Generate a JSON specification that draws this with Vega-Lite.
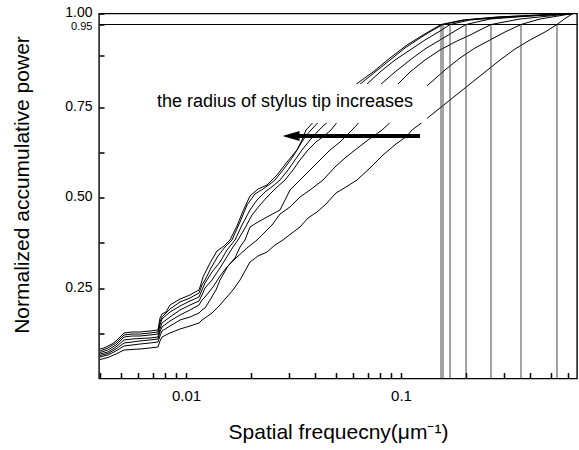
{
  "$schema": "https://vega.github.io/schema/vega-lite/v6.json",
  "width": 478,
  "height": 365,
  "autosize": {"type": "none"},
  "padding": {"left": 99, "top": 13.5, "right": 2, "bottom": 71.5},
  "background": "white",
  "config": {
    "view": {"stroke": "black", "strokeWidth": 1.4},
    "font": "Liberation Sans"
  },
  "datasets": {
    "curves": [
      {"c":1,"f":0.003981,"p":0.0815},{"c":1,"f":0.004155,"p":0.0843},{"c":1,"f":0.004337,"p":0.0898},{"c":1,"f":0.004527,"p":0.0953},{"c":1,"f":0.004725,"p":0.1036},{"c":1,"f":0.004932,"p":0.1146},{"c":1,"f":0.005148,"p":0.1257},{"c":1,"f":0.005608,"p":0.1285},{"c":1,"f":0.006110,"p":0.1285},{"c":1,"f":0.006801,"p":0.1312},{"c":1,"f":0.007409,"p":0.1340},{"c":1,"f":0.007569,"p":0.1671},{"c":1,"f":0.007733,"p":0.1782},{"c":1,"f":0.008072,"p":0.1837},{"c":1,"f":0.008425,"p":0.2030},{"c":1,"f":0.008889,"p":0.2113},{"c":1,"f":0.009378,"p":0.2196},{"c":1,"f":0.009894,"p":0.2251},{"c":1,"f":0.010438,"p":0.2307},{"c":1,"f":0.011012,"p":0.2389},{"c":1,"f":0.011494,"p":0.2445},{"c":1,"f":0.011743,"p":0.2610},{"c":1,"f":0.011997,"p":0.2804},{"c":1,"f":0.012931,"p":0.3191},{"c":1,"f":0.013938,"p":0.3522},{"c":1,"f":0.015023,"p":0.3660},{"c":1,"f":0.016020,"p":0.3826},{"c":1,"f":0.017267,"p":0.4213},{"c":1,"f":0.018413,"p":0.4627},{"c":1,"f":0.019847,"p":0.5041},{"c":1,"f":0.021623,"p":0.5235},{"c":1,"f":0.023810,"p":0.5345},{"c":1,"f":0.025119,"p":0.5483},{"c":1,"f":0.026501,"p":0.5622},{"c":1,"f":0.029497,"p":0.5980},{"c":1,"f":0.032832,"p":0.6312},{"c":1,"f":0.034638,"p":0.6588},{"c":1,"f":0.036154,"p":0.6864},{"c":1,"f":0.042002,"p":0.7279},{"c":1,"f":0.050389,"p":0.7670},{"c":1,"f":0.061103,"p":0.8033},{"c":1,"f":0.074093,"p":0.8348},{"c":1,"f":0.088890,"p":0.8688},{"c":1,"f":0.10664,"p":0.9003},{"c":1,"f":0.12657,"p":0.9245},{"c":1,"f":0.15350,"p":0.95},{"c":1,"f":0.19427,"p":0.9705},{"c":1,"f":0.27958,"p":0.9841},{"c":1,"f":0.63096,"p":1.0},
      {"c":2,"f":0.003981,"p":0.0760},{"c":2,"f":0.004337,"p":0.0843},{"c":2,"f":0.004725,"p":0.0981},{"c":2,"f":0.005148,"p":0.1202},{"c":2,"f":0.005608,"p":0.1229},{"c":2,"f":0.006110,"p":0.1229},{"c":2,"f":0.006801,"p":0.1257},{"c":2,"f":0.007409,"p":0.1285},{"c":2,"f":0.007569,"p":0.1561},{"c":2,"f":0.007733,"p":0.1699},{"c":2,"f":0.008425,"p":0.1920},{"c":2,"f":0.009378,"p":0.2113},{"c":2,"f":0.010438,"p":0.2224},{"c":2,"f":0.011494,"p":0.2362},{"c":2,"f":0.011869,"p":0.2583},{"c":2,"f":0.012257,"p":0.2721},{"c":2,"f":0.013070,"p":0.3052},{"c":2,"f":0.014088,"p":0.3384},{"c":2,"f":0.015185,"p":0.3633},{"c":2,"f":0.016366,"p":0.3826},{"c":2,"f":0.017831,"p":0.4323},{"c":2,"f":0.019219,"p":0.4793},{"c":2,"f":0.020939,"p":0.5097},{"c":2,"f":0.022812,"p":0.5235},{"c":2,"f":0.024587,"p":0.5373},{"c":2,"f":0.025939,"p":0.5483},{"c":2,"f":0.028260,"p":0.5760},{"c":2,"f":0.031120,"p":0.6091},{"c":2,"f":0.033904,"p":0.6450},{"c":2,"f":0.035769,"p":0.6671},{"c":2,"f":0.038143,"p":0.6864},{"c":2,"f":0.044313,"p":0.7279},{"c":2,"f":0.052035,"p":0.7670},{"c":2,"f":0.063777,"p":0.8033},{"c":2,"f":0.075697,"p":0.8348},{"c":2,"f":0.088890,"p":0.8639},{"c":2,"f":0.10438,"p":0.8930},{"c":2,"f":0.12257,"p":0.9173},{"c":2,"f":0.14088,"p":0.9367},{"c":2,"f":0.15682,"p":0.95},{"c":2,"f":0.19847,"p":0.9705},{"c":2,"f":0.28872,"p":0.9841},{"c":2,"f":0.63096,"p":1.0},
      {"c":3,"f":0.003981,"p":0.0718},{"c":3,"f":0.004337,"p":0.0787},{"c":3,"f":0.004725,"p":0.0925},{"c":3,"f":0.005148,"p":0.1146},{"c":3,"f":0.005608,"p":0.1174},{"c":3,"f":0.006110,"p":0.1174},{"c":3,"f":0.006801,"p":0.1202},{"c":3,"f":0.007409,"p":0.1229},{"c":3,"f":0.007569,"p":0.1478},{"c":3,"f":0.007733,"p":0.1644},{"c":3,"f":0.008425,"p":0.1837},{"c":3,"f":0.009378,"p":0.2003},{"c":3,"f":0.010438,"p":0.2141},{"c":3,"f":0.011494,"p":0.2251},{"c":3,"f":0.011869,"p":0.2445},{"c":3,"f":0.012257,"p":0.2638},{"c":3,"f":0.013211,"p":0.2942},{"c":3,"f":0.014393,"p":0.3218},{"c":3,"f":0.015513,"p":0.3550},{"c":3,"f":0.016901,"p":0.3826},{"c":3,"f":0.018217,"p":0.4240},{"c":3,"f":0.019847,"p":0.4655},{"c":3,"f":0.021392,"p":0.4931},{"c":3,"f":0.023306,"p":0.5152},{"c":3,"f":0.025390,"p":0.5318},{"c":3,"f":0.027366,"p":0.5483},{"c":3,"f":0.029815,"p":0.5760},{"c":3,"f":0.032136,"p":0.6036},{"c":3,"f":0.034638,"p":0.6312},{"c":3,"f":0.037736,"p":0.6588},{"c":3,"f":0.041555,"p":0.6864},{"c":3,"f":0.049322,"p":0.7279},{"c":3,"f":0.057917,"p":0.7670},{"c":3,"f":0.068742,"p":0.8033},{"c":3,"f":0.079862,"p":0.8348},{"c":3,"f":0.093780,"p":0.8639},{"c":3,"f":0.11012,"p":0.8882},{"c":3,"f":0.12931,"p":0.9124},{"c":3,"f":0.15186,"p":0.9342},{"c":3,"f":0.16902,"p":0.95},{"c":3,"f":0.20939,"p":0.9705},{"c":3,"f":0.32136,"p":0.9841},{"c":3,"f":0.63096,"p":1.0},
      {"c":4,"f":0.003981,"p":0.0677},{"c":4,"f":0.004337,"p":0.0732},{"c":4,"f":0.004725,"p":0.0870},{"c":4,"f":0.005148,"p":0.1064},{"c":4,"f":0.005608,"p":0.1091},{"c":4,"f":0.006110,"p":0.1105},{"c":4,"f":0.006801,"p":0.1119},{"c":4,"f":0.007409,"p":0.1146},{"c":4,"f":0.007569,"p":0.1367},{"c":4,"f":0.007733,"p":0.1533},{"c":4,"f":0.008425,"p":0.1699},{"c":4,"f":0.009378,"p":0.1892},{"c":4,"f":0.010438,"p":0.2030},{"c":4,"f":0.011494,"p":0.2141},{"c":4,"f":0.011869,"p":0.2307},{"c":4,"f":0.012257,"p":0.2500},{"c":4,"f":0.013211,"p":0.2721},{"c":4,"f":0.014393,"p":0.3052},{"c":4,"f":0.015680,"p":0.3412},{"c":4,"f":0.016543,"p":0.3633},{"c":4,"f":0.017453,"p":0.3826},{"c":4,"f":0.018812,"p":0.4157},{"c":4,"f":0.020277,"p":0.4517},{"c":4,"f":0.022091,"p":0.4793},{"c":4,"f":0.024066,"p":0.5041},{"c":4,"f":0.026219,"p":0.5262},{"c":4,"f":0.028872,"p":0.5483},{"c":4,"f":0.031455,"p":0.5760},{"c":4,"f":0.033904,"p":0.6036},{"c":4,"f":0.036937,"p":0.6312},{"c":4,"f":0.040241,"p":0.6533},{"c":4,"f":0.043841,"p":0.6699},{"c":4,"f":0.047253,"p":0.6864},{"c":4,"f":0.054897,"p":0.7362},{"c":4,"f":0.064464,"p":0.7670},{"c":4,"f":0.071750,"p":0.7864},{"c":4,"f":0.079862,"p":0.8033},{"c":4,"f":0.093780,"p":0.8348},{"c":4,"f":0.11012,"p":0.8639},{"c":4,"f":0.12931,"p":0.8906},{"c":4,"f":0.15186,"p":0.9124},{"c":4,"f":0.17832,"p":0.9342},{"c":4,"f":0.20061,"p":0.95},{"c":4,"f":0.25939,"p":0.9750},{"c":4,"f":0.39811,"p":0.9886},{"c":4,"f":0.63096,"p":1.0},
      {"c":5,"f":0.003981,"p":0.0635},{"c":5,"f":0.004337,"p":0.0691},{"c":5,"f":0.004725,"p":0.0815},{"c":5,"f":0.005148,"p":0.0981},{"c":5,"f":0.005608,"p":0.1008},{"c":5,"f":0.006110,"p":0.1036},{"c":5,"f":0.006801,"p":0.1064},{"c":5,"f":0.007409,"p":0.1091},{"c":5,"f":0.007569,"p":0.1285},{"c":5,"f":0.007733,"p":0.1423},{"c":5,"f":0.008425,"p":0.1588},{"c":5,"f":0.009378,"p":0.1754},{"c":5,"f":0.010438,"p":0.1892},{"c":5,"f":0.011494,"p":0.2030},{"c":5,"f":0.011869,"p":0.2168},{"c":5,"f":0.012257,"p":0.2251},{"c":5,"f":0.013353,"p":0.2528},{"c":5,"f":0.014393,"p":0.2831},{"c":5,"f":0.015513,"p":0.3080},{"c":5,"f":0.016901,"p":0.3329},{"c":5,"f":0.017831,"p":0.3633},{"c":5,"f":0.018812,"p":0.3826},{"c":5,"f":0.019847,"p":0.4185},{"c":5,"f":0.021623,"p":0.4323},{"c":5,"f":0.023810,"p":0.4461},{"c":5,"f":0.027366,"p":0.4655},{"c":5,"f":0.030460,"p":0.5207},{"c":5,"f":0.033904,"p":0.5483},{"c":5,"f":0.037736,"p":0.5760},{"c":5,"f":0.042002,"p":0.6036},{"c":5,"f":0.046750,"p":0.6312},{"c":5,"f":0.052035,"p":0.6533},{"c":5,"f":0.059171,"p":0.6864},{"c":5,"f":0.068009,"p":0.7251},{"c":5,"f":0.079862,"p":0.7670},{"c":5,"f":0.095810,"p":0.8033},{"c":5,"f":0.11012,"p":0.8348},{"c":5,"f":0.12931,"p":0.8639},{"c":5,"f":0.15186,"p":0.8882},{"c":5,"f":0.17832,"p":0.9076},{"c":5,"f":0.20939,"p":0.9245},{"c":5,"f":0.26219,"p":0.95},{"c":5,"f":0.35769,"p":0.9750},{"c":5,"f":0.63096,"p":1.0},
      {"c":6,"f":0.003981,"p":0.0594},{"c":6,"f":0.004337,"p":0.0649},{"c":6,"f":0.004725,"p":0.0760},{"c":6,"f":0.005148,"p":0.0898},{"c":6,"f":0.005608,"p":0.0925},{"c":6,"f":0.006110,"p":0.0953},{"c":6,"f":0.006801,"p":0.0981},{"c":6,"f":0.007409,"p":0.1008},{"c":6,"f":0.007569,"p":0.1174},{"c":6,"f":0.007733,"p":0.1312},{"c":6,"f":0.008425,"p":0.1450},{"c":6,"f":0.009378,"p":0.1616},{"c":6,"f":0.010438,"p":0.1699},{"c":6,"f":0.011494,"p":0.1809},{"c":6,"f":0.011869,"p":0.1892},{"c":6,"f":0.012257,"p":0.1947},{"c":6,"f":0.012931,"p":0.2168},{"c":6,"f":0.013789,"p":0.2445},{"c":6,"f":0.014393,"p":0.2721},{"c":6,"f":0.015680,"p":0.3108},{"c":6,"f":0.017267,"p":0.3356},{"c":6,"f":0.019219,"p":0.3605},{"c":6,"f":0.021392,"p":0.3826},{"c":6,"f":0.023306,"p":0.4047},{"c":6,"f":0.025119,"p":0.4240},{"c":6,"f":0.027366,"p":0.4544},{"c":6,"f":0.030460,"p":0.4738},{"c":6,"f":0.033904,"p":0.5014},{"c":6,"f":0.037736,"p":0.5207},{"c":6,"f":0.043374,"p":0.5483},{"c":6,"f":0.049322,"p":0.5842},{"c":6,"f":0.054897,"p":0.6091},{"c":6,"f":0.061103,"p":0.6312},{"c":6,"f":0.070230,"p":0.6588},{"c":6,"f":0.081591,"p":0.6864},{"c":6,"f":0.093780,"p":0.7196},{"c":6,"f":0.11012,"p":0.7573},{"c":6,"f":0.13353,"p":0.8033},{"c":6,"f":0.16022,"p":0.8397},{"c":6,"f":0.18812,"p":0.8688},{"c":6,"f":0.22091,"p":0.8930},{"c":6,"f":0.25939,"p":0.9124},{"c":6,"f":0.30460,"p":0.9318},{"c":6,"f":0.36154,"p":0.95},{"c":6,"f":0.44313,"p":0.9750},{"c":6,"f":0.63096,"p":1.0},
      {"c":7,"f":0.003981,"p":0.0525},{"c":7,"f":0.004337,"p":0.0580},{"c":7,"f":0.004725,"p":0.0677},{"c":7,"f":0.005148,"p":0.0787},{"c":7,"f":0.005608,"p":0.0801},{"c":7,"f":0.006110,"p":0.0815},{"c":7,"f":0.006801,"p":0.0843},{"c":7,"f":0.007409,"p":0.0870},{"c":7,"f":0.007569,"p":0.1036},{"c":7,"f":0.007733,"p":0.1146},{"c":7,"f":0.008425,"p":0.1257},{"c":7,"f":0.009378,"p":0.1367},{"c":7,"f":0.010438,"p":0.1450},{"c":7,"f":0.011494,"p":0.1533},{"c":7,"f":0.011869,"p":0.1616},{"c":7,"f":0.012257,"p":0.1671},{"c":7,"f":0.013211,"p":0.1809},{"c":7,"f":0.014393,"p":0.2030},{"c":7,"f":0.015348,"p":0.2224},{"c":7,"f":0.016543,"p":0.2445},{"c":7,"f":0.017831,"p":0.2721},{"c":7,"f":0.019847,"p":0.3218},{"c":7,"f":0.021623,"p":0.3384},{"c":7,"f":0.023810,"p":0.3494},{"c":7,"f":0.025939,"p":0.3688},{"c":7,"f":0.028260,"p":0.3826},{"c":7,"f":0.031120,"p":0.4019},{"c":7,"f":0.033904,"p":0.4185},{"c":7,"f":0.036937,"p":0.4434},{"c":7,"f":0.040674,"p":0.4599},{"c":7,"f":0.044790,"p":0.4820},{"c":7,"f":0.049853,"p":0.5124},{"c":7,"f":0.055488,"p":0.5290},{"c":7,"f":0.062426,"p":0.5483},{"c":7,"f":0.071750,"p":0.5815},{"c":7,"f":0.082469,"p":0.6174},{"c":7,"f":0.094790,"p":0.6478},{"c":7,"f":0.10664,"p":0.6699},{"c":7,"f":0.11250,"p":0.6864},{"c":7,"f":0.12257,"p":0.7030},{"c":7,"f":0.13642,"p":0.7251},{"c":7,"f":0.15186,"p":0.7472},{"c":7,"f":0.17832,"p":0.7767},{"c":7,"f":0.20939,"p":0.8058},{"c":7,"f":0.24587,"p":0.8348},{"c":7,"f":0.28872,"p":0.8639},{"c":7,"f":0.33904,"p":0.8906},{"c":7,"f":0.39811,"p":0.9124},{"c":7,"f":0.46750,"p":0.9318},{"c":7,"f":0.53148,"p":0.95},{"c":7,"f":0.57917,"p":0.9773},{"c":7,"f":0.63096,"p":1.0}
    ],
    "cross": [
      {"c":1,"f":0.15350},{"c":2,"f":0.15682},{"c":3,"f":0.16902},{"c":4,"f":0.20061},{"c":5,"f":0.26219},{"c":6,"f":0.36154},{"c":7,"f":0.53148}
    ],
    "box": [{"f":0.0068,"f2":0.13211,"p":0.8058,"p2":0.7058}],
    "note": [{"label":"the radius of stylus tip increases","f":0.00733,"p":0.7621}],
    "arrow": [{"f":0.03112,"f2":0.12257,"p":0.6699}],
    "head": [{"f":0.030788,"p":0.6699}]
  },
  "layer": [
    {
      "data": {"name": "curves"},
      "mark": {"type": "line", "color": "black", "strokeWidth": 1},
      "encoding": {
        "x": {
          "field": "f", "type": "quantitative",
          "scale": {"type": "log", "domain": [0.0039386, 0.6586], "nice": false},
          "axis": {
            "gridOpacity": 0,
            "domain": false,
            "title": "Spatial frequecny(μm⁻¹)",
            "values": [0.004,0.005,0.006,0.007,0.008,0.009,0.01,0.02,0.03,0.04,0.05,0.06,0.07,0.08,0.09,0.1,0.2,0.3,0.4,0.5,0.6],
            "labelExpr": "datum.value == 0.01 ? '0.01' : (datum.value == 0.1 ? '0.1' : '')",
            "offset": -6,
            "tickSize": 6,
            "tickColor": "black",
            "tickWidth": 1.5,
            "labelFont": "Liberation Sans",
            "labelColor": "black",
            "labelFontSize": 15,
            "labelPadding": 9.5,
            "titleFont": "Liberation Sans",
            "titleColor": "black",
            "titleFontWeight": "normal",
            "titleFontSize": 21,
            "titleX": 239,
            "titleY": 65.5,
            "titleAlign": "center",
            "titleBaseline": "alphabetic"
          }
        },
        "y": {
          "field": "p", "type": "quantitative",
          "scale": {"domain": [0, 0.75, 0.95, 1], "range": [365, 93.5, 11, 0], "nice": false, "zero": false},
          "axis": {
            "gridOpacity": 0,
            "domain": false,
            "title": "Normalized accumulative power",
            "values": [0.125, 0.25, 0.375, 0.5, 0.625, 0.75, 0.875, 0.95, 1],
            "labelExpr": "indexof([0.25, 0.5, 0.75, 0.95, 1], datum.value) >= 0 ? format(datum.value, '.2f') : ''",
            "offset": -5,
            "tickSize": 5,
            "tickColor": "black",
            "tickWidth": 1.5,
            "labelFont": "Liberation Sans",
            "labelColor": "black",
            "labelFontSize": {"condition": {"test": "datum.value == 0.95", "value": 11}, "value": 14},
            "labelOffset": {"condition": {"test": "datum.value == 0.95", "value": 1.5}, "value": -1},
            "labelPadding": 7,
            "labelBaseline": "middle",
            "titleFont": "Liberation Sans",
            "titleColor": "black",
            "titleFontWeight": "normal",
            "titleFontSize": 21,
            "titleAngle": -90,
            "titleX": -82,
            "titleY": 171,
            "titleAlign": "center",
            "titleBaseline": "middle"
          }
        },
        "detail": {"field": "c", "type": "nominal"}
      }
    },
    {
      "data": {"name": "cross"},
      "mark": {"type": "rule", "color": "#333333", "strokeWidth": 0.9},
      "encoding": {
        "x": {"field": "f", "type": "quantitative"},
        "y": {"datum": 0},
        "y2": {"datum": 0.95}
      }
    },
    {
      "data": {"values": [{}]},
      "mark": {"type": "rule", "color": "black", "strokeWidth": 1},
      "encoding": {"y": {"datum": 0.95}}
    },
    {
      "data": {"name": "box"},
      "mark": {"type": "rect", "fill": "white", "stroke": null},
      "encoding": {
        "x": {"field": "f", "type": "quantitative"},
        "x2": {"field": "f2"},
        "y": {"field": "p", "type": "quantitative"},
        "y2": {"field": "p2"}
      }
    },
    {
      "data": {"name": "note"},
      "mark": {"type": "text", "align": "left", "baseline": "middle", "fontSize": 18, "font": "Liberation Sans", "color": "black"},
      "encoding": {
        "x": {"field": "f", "type": "quantitative"},
        "y": {"field": "p", "type": "quantitative"},
        "text": {"field": "label"}
      }
    },
    {
      "data": {"name": "arrow"},
      "mark": {"type": "rule", "color": "black", "strokeWidth": 4},
      "encoding": {
        "x": {"field": "f", "type": "quantitative"},
        "x2": {"field": "f2"},
        "y": {"field": "p", "type": "quantitative"}
      }
    },
    {
      "data": {"name": "head"},
      "mark": {"type": "point", "shape": "M -1 0 L 1 -0.6 L 1 0.6 Z", "filled": true, "color": "black", "size": 289, "opacity": 1},
      "encoding": {
        "x": {"field": "f", "type": "quantitative"},
        "y": {"field": "p", "type": "quantitative"}
      }
    }
  ]
}
